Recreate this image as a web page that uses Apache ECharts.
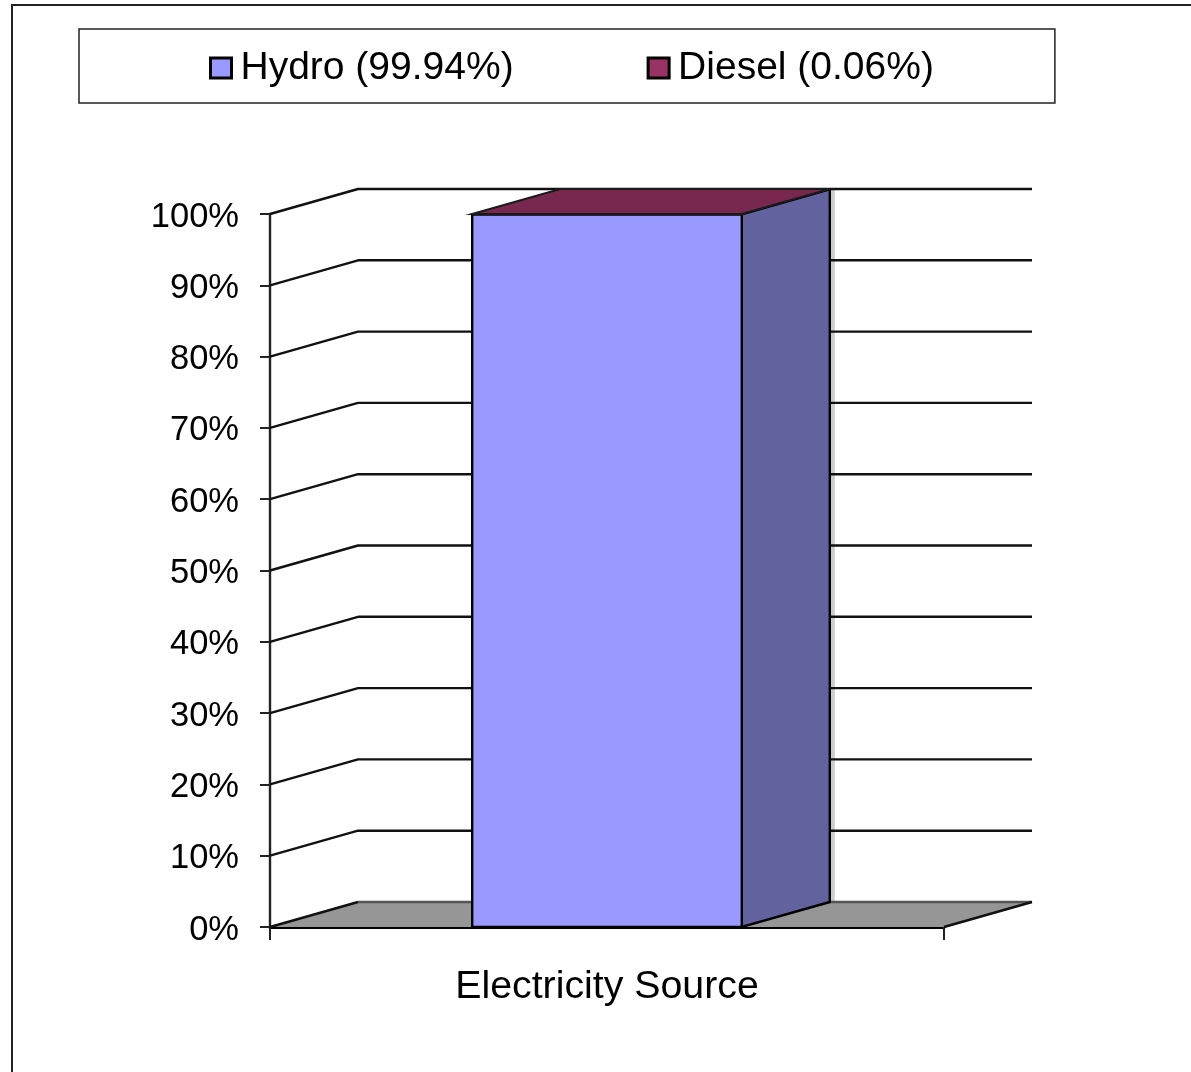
<!DOCTYPE html>
<html>
<head>
<meta charset="utf-8">
<style>html,body{margin:0;padding:0;background:#fff}#c{width:1191px;height:1072px}</style>
<script src="https://cdn.jsdelivr.net/npm/echarts@6/dist/echarts.min.js"></script>
</head>
<body>
<div id="c"></div>
<script>
const categories = ['Electricity Source'];
const hydroValues = [99.94];
const dieselValues = [0.06];
const yTicks = [0, 10, 20, 30, 40, 50, 60, 70, 80, 90, 100];
const hydroName = 'Hydro (99.94%)';
const dieselName = 'Diesel (0.06%)';

const DX = 88, DY = 25, BAR_RATIO = 0.4;
const FONT = '"Liberation Sans", Arial, sans-serif';

function poly(points, fill, stroke, lw) {
  return { type: 'polygon', shape: { points }, style: { fill, stroke, lineWidth: lw } };
}
function band(api) {
  return api.size([1, 0])[0];
}
function renderShade(params, api) {
  const top = api.coord([api.value(0), api.value(1)]);
  const base = api.coord([api.value(0), 0]);
  const r = top[0] + band(api) * BAR_RATIO / 2;
  return { type: 'rect', shape: { x: r + DX, y: top[1] - DY, width: 5, height: base[1] - top[1] },
    style: { fill: '#cccccc' } };
}
function renderWall(params, api) {
  const tick = api.value(1);
  const p = api.coord([0, tick]);
  const w = band(api);
  const x0 = p[0] - w / 2, x1 = p[0] + w / 2, y = p[1];
  const children = [];
  if (tick === 0) {
    children.push(poly([[x0, y], [x0 + DX, y - DY], [x1 + DX, y - DY], [x1, y]], '#969696', null, 0));
    children.push({ type: 'polyline', shape: { points: [[x0, y], [x0 + DX, y - DY]] },
      style: { fill: null, stroke: '#111', lineWidth: 2.4 } });
    children.push({ type: 'polyline', shape: { points: [[x0 + DX, y - DY], [x1 + DX, y - DY]] },
      style: { fill: null, stroke: '#555', lineWidth: 2.4 } });
    children.push({ type: 'polyline', shape: { points: [[x1 + DX, y - DY], [x1, y]] },
      style: { fill: null, stroke: '#111', lineWidth: 2.4 } });
  } else {
    children.push({ type: 'polyline', shape: { points: [[x0, y], [x0 + DX, y - DY], [x1 + DX, y - DY]] },
      style: { fill: null, stroke: '#111', lineWidth: 2.4, lineJoin: 'round' } });
  }
  return { type: 'group', children };
}
function renderHydro(params, api) {
  const top = api.coord([api.value(0), api.value(1)]);
  const base = api.coord([api.value(0), 0]);
  const w = band(api) * BAR_RATIO;
  const l = top[0] - w / 2, r = top[0] + w / 2;
  return { type: 'group', children: [
    poly([[r, top[1]], [r + DX, top[1] - DY], [r + DX, base[1] - DY], [r, base[1]]], '#62629f', '#000', 2.4),
    { type: 'rect', shape: { x: l, y: top[1], width: w, height: base[1] - top[1] },
      style: { fill: '#9999ff', stroke: '#000', lineWidth: 2.4 } }
  ]};
}
function renderDiesel(params, api) {
  const low = api.value(1), high = low + api.value(2);
  const top = api.coord([api.value(0), high]);
  const w = band(api) * BAR_RATIO;
  const l = top[0] - w / 2, r = top[0] + w / 2;
  return poly([[l, top[1]], [l + DX, top[1] - DY], [r + DX, top[1] - DY], [r, top[1]]], '#78284f', '#1a1a1a', 2);
}

const chart = echarts.init(document.getElementById('c'), null, { renderer: 'canvas', width: 1191, height: 1072 });
chart.setOption({
  animation: false,
  backgroundColor: '#fff',
  graphic: [{ type: 'rect', silent: true, z: -1,
    shape: { x: 12, y: 5, width: 1400, height: 1400 },
    style: { fill: null, stroke: '#222', lineWidth: 2 } }],
  legend: {
    left: 79, top: 29,
    padding: [19.5, 121, 15.5, 130],
    borderColor: '#222', borderWidth: 1.5,
    backgroundColor: '#fff',
    itemWidth: 21, itemHeight: 20, itemGap: 133,
    itemStyle: { borderColor: '#000', borderWidth: 3 },
    icon: 'rect',
    selectedMode: false,
    textStyle: { fontFamily: FONT, fontSize: 39, color: '#000', padding: [0, 0, 0, 4] },
    data: [hydroName, dieselName]
  },
  grid: { left: 270, right: 247, top: 214, bottom: 145, containLabel: false },
  xAxis: {
    type: 'category', data: categories, boundaryGap: true,
    axisLine: { lineStyle: { color: '#000', width: 3 } },
    axisTick: { show: true, alignWithLabel: false, length: 13, lineStyle: { color: '#222', width: 2 } },
    axisLabel: { fontFamily: FONT, fontSize: 39.3, color: '#000', margin: 41 },
    splitLine: { show: false }
  },
  yAxis: {
    type: 'value', min: 0, max: 100, interval: 10,
    axisLine: { show: true, lineStyle: { color: '#222', width: 2.4 } },
    axisTick: { show: true, length: 10, lineStyle: { color: '#222', width: 2 } },
    axisLabel: { formatter: '{value}%', fontFamily: FONT, fontSize: 34.5, color: '#000', margin: 31,
      verticalAlign: 'top', lineHeight: 6 },
    splitLine: { show: false }
  },
  series: [
    { type: 'custom', name: 'shade', silent: true, z: 1, clip: false, renderItem: renderShade,
      encode: { x: 0, y: 1 }, data: hydroValues.map((v, i) => [i, v]) },
    { type: 'custom', name: 'walls', silent: true, z: 1, clip: false, renderItem: renderWall,
      encode: { x: 0, y: 1 }, data: yTicks.map(t => [0, t]) },
    { type: 'custom', name: hydroName, silent: true, z: 2, clip: false, renderItem: renderHydro,
      itemStyle: { color: '#9999ff' }, encode: { x: 0, y: 1 },
      data: hydroValues.map((v, i) => [i, v]) },
    { type: 'custom', name: dieselName, silent: true, z: 3, clip: false, renderItem: renderDiesel,
      itemStyle: { color: '#993366' }, encode: { x: 0, y: 1 },
      data: dieselValues.map((v, i) => [i, hydroValues[i], v]) }
  ]
});
</script>
</body>
</html>
